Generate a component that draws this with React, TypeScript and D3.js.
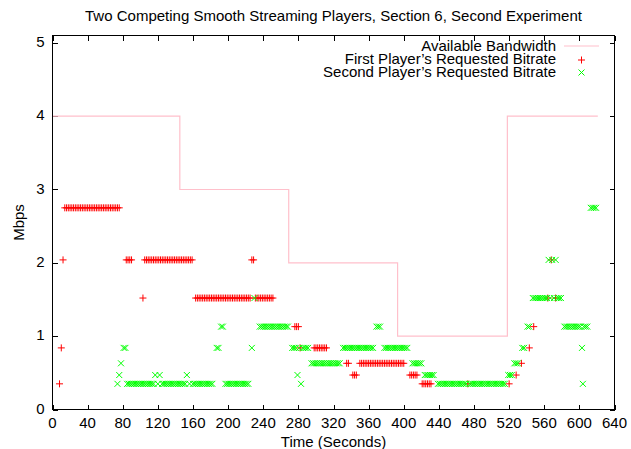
import React, { useEffect } from "react";
import * as d3 from "d3";

const W = 631;
const H = 449;

const title = "Two Competing Smooth Streaming Players, Section 6, Second Experiment";
const xLabel = "Time (Seconds)";
const yLabel = "Mbps";
const xTicks = [0, 40, 80, 120, 160, 200, 240, 280, 320, 360, 400, 440, 480, 520, 560, 600, 640];
const yTicks = [0, 1, 2, 3, 4, 5];
const legendLabels = ["Available Bandwidth", "First Player\u2019s Requested Bitrate", "Second Player\u2019s Requested Bitrate"];

// Available bandwidth (step changes)
const bwTimes = [0, 145, 269, 393, 518, 621];
const bwValues = [4, 3, 2, 1, 4, 4];

// First player: times (s) per requested bitrate (Mbps)
const p1_035 = [8, 421, 423, 425, 427, 429, 431, 473, 520];
const p1_047 = [342, 344, 346, 407, 409, 411, 413, 415, 528];
const p1_063 = [335, 337, 350, 352, 354, 356, 358, 360, 362, 364, 366, 368, 370, 372, 374, 376, 378, 380, 382, 384, 386, 388, 390, 392, 394, 396, 398, 400, 534];
const p1_084 = [10, 282, 298, 300, 302, 304, 306, 308, 310, 312, 543];
const p1_113 = [276, 278, 280, 548];
const p1_152 = [103, 163, 165, 167, 169, 171, 173, 175, 177, 179, 181, 183, 185, 187, 189, 191, 193, 195, 197, 199, 201, 203, 205, 207, 209, 211, 213, 215, 217, 219, 221, 223, 225, 231, 233, 235, 237, 239, 241, 243, 245, 247, 249, 251, 564, 573];
const p1_204 = [12, 84, 86, 88, 90, 105, 107, 109, 111, 113, 115, 117, 119, 121, 123, 125, 127, 129, 131, 133, 135, 137, 139, 141, 143, 145, 147, 149, 151, 153, 155, 157, 159, 227, 229, 568];
const p1_275 = [14, 16, 18, 20, 22, 24, 26, 28, 30, 32, 34, 36, 38, 40, 42, 44, 46, 48, 50, 52, 54, 56, 58, 60, 62, 64, 66, 68, 70, 72, 74, 76];

// Second player
const p2_035 = [74, 85, 87, 89, 91, 93, 95, 97, 99, 101, 103, 105, 107, 109, 111, 113, 115, 120, 125, 127, 129, 131, 133, 135, 137, 139, 141, 143, 145, 147, 149, 151, 156, 160, 162, 164, 166, 168, 170, 172, 174, 176, 178, 180, 182,
  197, 199, 201, 203, 205, 207, 209, 211, 213, 215, 217, 219, 221, 223, 283,
  439, 441, 443, 445, 447, 449, 451, 453, 455, 457, 459, 461, 463, 465, 467, 469, 471, 475, 477, 479, 481, 483, 485, 487, 489, 491, 493, 495, 497, 499, 501, 503, 505, 507, 509, 511, 513, 515, 604];
const p2_047 = [76, 117, 122, 153, 279, 424, 426, 428, 430, 432, 434, 519, 521, 523];
const p2_063 = [78, 295, 297, 299, 301, 303, 305, 307, 309, 311, 313, 315, 317, 319, 321, 323, 325, 327, 410, 412, 414, 416, 418, 420, 526, 528, 530];
const p2_084 = [81, 83, 187, 189, 227, 273, 275, 277, 281, 285, 287, 289, 291,
  331, 333, 335, 337, 339, 341, 343, 345, 347, 349, 351, 353, 355, 357, 359, 361, 363, 365,
  378, 380, 382, 384, 386, 388, 390, 392, 394, 396, 398, 400, 402, 404, 535, 537, 603];
const p2_113 = [192, 194, 236, 238, 240, 242, 244, 246, 248, 250, 252, 254, 256, 258, 260, 262, 264, 266, 268, 369, 371, 373, 541, 543,
  583, 585, 587, 589, 591, 593, 595, 597, 599, 601, 605, 607, 609];
const p2_152 = [230, 547, 549, 551, 553, 555, 557, 559, 561, 563, 567, 571, 575, 577, 579];
const p2_204 = [565, 569, 573];
const p2_275 = [613, 615, 617, 619];

const levels = [0.35, 0.47, 0.63, 0.84, 1.13, 1.52, 2.04, 2.75];
const p1Lists = [p1_035, p1_047, p1_063, p1_084, p1_113, p1_152, p1_204, p1_275];
const p2Lists = [p2_035, p2_047, p2_063, p2_084, p2_113, p2_152, p2_204, p2_275];

const toPoints = (lists: number[][]) => lists.flatMap((ts, i) => ts.map((t) => [t, levels[i]] as [number, number]));

const FONT = "'Liberation Sans', Arial, Helvetica, sans-serif";
const FS = 15;
const RED = "#ff0000";
const GREEN = "#00ff00";
const PINK = "#ffc0cb";

export default function App() {
  useEffect(() => {
    document.body.style.margin = "0";
  }, []);

  const x = d3.scaleLinear().domain([0, 640]).range([52.5, 614.5]);
  const y = d3.scaleLinear().domain([0, 5.1]).range([409.5, 35.5]);

  const bwLine = d3
    .line<number>()
    .x((_, i) => x(bwTimes[i]))
    .y((d) => y(d))
    .curve(d3.curveStepAfter)(bwValues) as string;

  const plus = (cx: number, cy: number) => `M${cx - 3.5},${cy}h7M${cx},${cy - 3.5}v7`;
  const cross = (cx: number, cy: number) => `M${cx - 3},${cy - 3}l6,6M${cx - 3},${cy + 3}l6,-6`;

  const p1 = toPoints(p1Lists);
  const p2 = toPoints(p2Lists);
  const p1Path = p1.map(([t, v]) => plus(x(t), y(v))).join("");
  const p2Path = p2.map(([t, v]) => cross(x(t), y(v))).join("");

  const [x0, x1] = x.range();
  const [y0, y1] = y.range();
  const tl = 5;

  const legX = 556;
  const legBase = [51, 64, 77];

  return (
    <svg width={W} height={H} style={{ position: "absolute", left: 0, top: 0, background: "#fff" }} fontFamily={FONT} fontSize={FS}>
      <rect x={0} y={0} width={W} height={H} fill="#fff" />
      <text x={(x0 + x1) / 2} y={21} textAnchor="middle">{title}</text>

      <g stroke="#000" strokeWidth={1} shapeRendering="crispEdges">
        {xTicks.map((t) => (
          <g key={"xt" + t}>
            <line x1={Math.round(x(t)) + 0.5} x2={Math.round(x(t)) + 0.5} y1={y0} y2={y0 - tl} />
            <line x1={Math.round(x(t)) + 0.5} x2={Math.round(x(t)) + 0.5} y1={y1} y2={y1 + tl} />
          </g>
        ))}
        {yTicks.map((v) => (
          <g key={"yt" + v}>
            <line x1={x0} x2={x0 + tl} y1={Math.round(y(v)) + 0.5} y2={Math.round(y(v)) + 0.5} />
            <line x1={x1} x2={x1 - tl} y1={Math.round(y(v)) + 0.5} y2={Math.round(y(v)) + 0.5} />
          </g>
        ))}
      </g>

      {xTicks.map((t) => (
        <text key={"xl" + t} x={x(t)} y={427.5} textAnchor="middle">{t}</text>
      ))}
      {yTicks.map((v) => (
        <text key={"yl" + v} x={44.5} y={y(v) + 4} textAnchor="end">{v}</text>
      ))}
      <text x={(x0 + x1) / 2} y={447} textAnchor="middle">{xLabel}</text>
      <text transform={`translate(24,${(y0 + y1) / 2}) rotate(-90)`} textAnchor="middle">{yLabel}</text>

      <path d={bwLine} fill="none" stroke={PINK} strokeWidth={1.2} />
      <path d={p1Path} fill="none" stroke={RED} strokeWidth={1} />
      <path d={p2Path} fill="none" stroke={GREEN} strokeWidth={1} />

      {/* Legend */}
      <text x={legX} y={legBase[0]} textAnchor="end">{legendLabels[0]}</text>
      <line x1={564} x2={599} y1={46} y2={46} stroke={PINK} strokeWidth={1.2} />
      <text x={legX} y={legBase[1]} textAnchor="end">{legendLabels[1]}</text>
      <path d={plus(581.5, 60)} stroke={RED} strokeWidth={1} fill="none" />
      <text x={legX} y={legBase[2]} textAnchor="end">{legendLabels[2]}</text>
      <path d={cross(581.5, 72.5)} stroke={GREEN} strokeWidth={1} fill="none" />

      <rect x={x0} y={y1} width={x1 - x0} height={y0 - y1} fill="none" stroke="#000" strokeWidth={1} shapeRendering="crispEdges" />
    </svg>
  );
}
